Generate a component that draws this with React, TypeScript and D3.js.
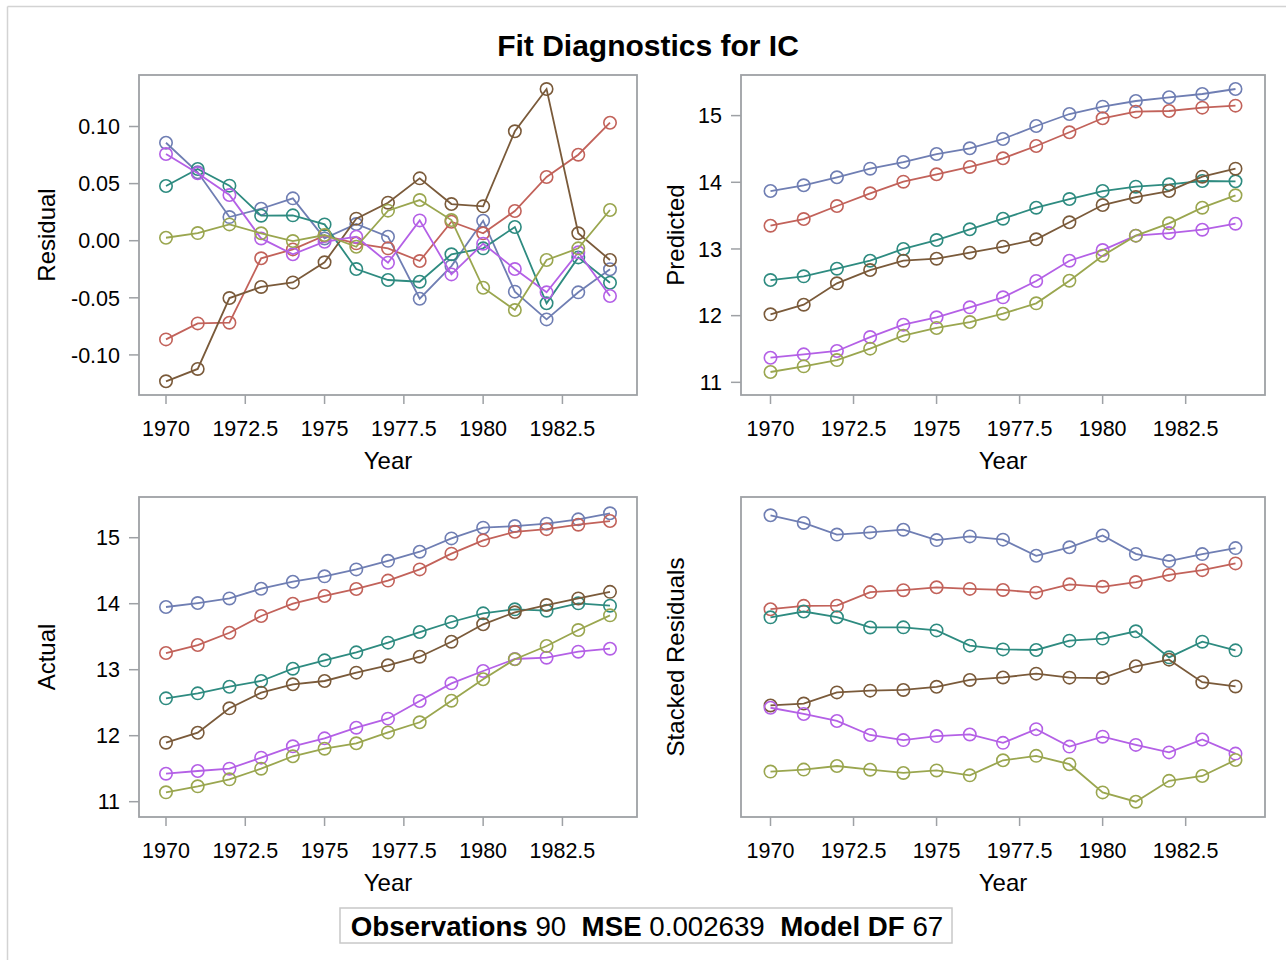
import * as d3 from 'd3';

const years = [1970, 1971, 1972, 1973, 1974, 1975, 1976, 1977, 1978, 1979, 1980, 1981, 1982, 1983, 1984];
const yearTicks = [1970, 1972.5, 1975, 1977.5, 1980, 1982.5];

const seriesNames = ['s1', 's2', 's3', 's4', 's5', 's6'];
const seriesColors = ['#6F7EB3', '#C2625A', '#2E8B80', '#7A5A3A', '#B460E6', '#9AA64F'];

const residualS1 = [0.0858, 0.0599, 0.0207, 0.0280, 0.0371, 0.0020, 0.0146, 0.0035, -0.0508, -0.0222, 0.0175, -0.0446, -0.0689, -0.0452, -0.0250];
const residualS2 = [-0.0864, -0.0724, -0.0718, -0.0154, -0.0076, 0.0044, -0.0023, -0.0067, -0.0178, 0.0166, 0.0065, 0.0260, 0.0558, 0.0753, 0.1033];
const residualS3 = [0.0479, 0.0628, 0.0482, 0.0219, 0.0222, 0.0143, -0.0248, -0.0344, -0.0359, -0.0119, -0.0067, 0.0120, -0.0548, -0.0146, -0.0368];
const residualS4 = [-0.1231, -0.1123, -0.0502, -0.0405, -0.0365, -0.0189, 0.0193, 0.0333, 0.0546, 0.0321, 0.0301, 0.0958, 0.1328, 0.0065, -0.0169];
const residualS5 = [0.0759, 0.0590, 0.0400, 0.0020, -0.0119, -0.0009, 0.0035, -0.0193, 0.0178, -0.0295, -0.0026, -0.0248, -0.0452, -0.0102, -0.0484];
const residualS6 = [0.0026, 0.0067, 0.0143, 0.0065, -0.0003, 0.0050, -0.0053, 0.0263, 0.0356, 0.0181, -0.0412, -0.0607, -0.0169, -0.0067, 0.0269];

const predictedS1 = [13.869, 13.955, 14.075, 14.204, 14.304, 14.424, 14.510, 14.649, 14.844, 15.024, 15.134, 15.219, 15.275, 15.324, 15.399];
const predictedS2 = [13.349, 13.449, 13.644, 13.835, 14.009, 14.120, 14.230, 14.360, 14.544, 14.750, 14.960, 15.059, 15.069, 15.119, 15.149];
const predictedS3 = [12.534, 12.590, 12.704, 12.824, 13.000, 13.134, 13.295, 13.454, 13.619, 13.749, 13.869, 13.934, 13.970, 14.019, 14.015];
const predictedS4 = [12.020, 12.164, 12.485, 12.684, 12.824, 12.854, 12.944, 13.034, 13.145, 13.400, 13.659, 13.779, 13.869, 14.084, 14.204];
const predictedS5 = [11.369, 11.420, 11.470, 11.679, 11.864, 11.975, 12.125, 12.275, 12.520, 12.824, 12.984, 13.200, 13.239, 13.289, 13.379];
const predictedS6 = [11.155, 11.240, 11.334, 11.505, 11.700, 11.815, 11.904, 12.029, 12.185, 12.524, 12.899, 13.200, 13.385, 13.619, 13.805];

const actualS1 = [13.950, 14.010, 14.080, 14.227, 14.333, 14.415, 14.520, 14.650, 14.788, 14.990, 15.152, 15.177, 15.212, 15.278, 15.370];
const actualS2 = [13.253, 13.374, 13.560, 13.814, 14.000, 14.117, 14.223, 14.350, 14.520, 14.758, 14.960, 15.090, 15.130, 15.197, 15.253];
const actualS3 = [12.566, 12.642, 12.742, 12.829, 13.015, 13.142, 13.263, 13.410, 13.571, 13.723, 13.854, 13.915, 13.894, 14.006, 13.970];
const actualS4 = [11.894, 12.045, 12.415, 12.652, 12.779, 12.829, 12.955, 13.067, 13.197, 13.424, 13.688, 13.870, 13.980, 14.080, 14.180];
const actualS5 = [11.424, 11.465, 11.500, 11.667, 11.839, 11.960, 12.121, 12.258, 12.526, 12.793, 12.980, 13.162, 13.182, 13.273, 13.318];
const actualS6 = [11.142, 11.233, 11.339, 11.500, 11.688, 11.803, 11.885, 12.050, 12.203, 12.530, 12.855, 13.158, 13.359, 13.601, 13.824];

const residualTicks = [-0.1, -0.05, 0, 0.05, 0.1];
const levelTicks = [11, 12, 13, 14, 15];

const obsCount = 90;
const mseValue = '0.002639';
const modelDF = 67;

const residuals = [residualS1, residualS2, residualS3, residualS4, residualS5, residualS6];
const predicted = [predictedS1, predictedS2, predictedS3, predictedS4, predictedS5, predictedS6];
const actual = [actualS1, actualS2, actualS3, actualS4, actualS5, actualS6];

// each residual series scaled into its own band, stacked top to bottom
const bandStep = 1.05;
const stacked = residuals.map((r, k) => {
  const [lo, hi] = d3.extent(r) as [number, number];
  return r.map(v => (residuals.length - 1 - k) * bandStep + (v - lo) / (hi - lo));
});

const FONT = '"Liberation Sans", Arial, Helvetica, sans-serif';
const FRAME = '#9EA1A5';

type PanelProps = {
  left: number; top: number; width: number; height: number; pad: number;
  yDomain: [number, number]; yTicks: number[]; fmt: (v: number) => string;
  label: string; labelX: number; data: number[][];
};

const Panel = ({ left, top, width, height, pad, yDomain, yTicks, fmt, label, labelX, data }: PanelProps) => {
  const x = d3.scaleLinear().domain([1970, 1984]).range([left + pad, left + width - pad]);
  const y = d3.scaleLinear().domain(yDomain).range([top + height, top]);
  const line = d3.line<number>().x((_, i) => x(years[i])).y(v => y(v));
  const bottom = top + height;
  return (
    <g>
      <rect x={left} y={top} width={width} height={height} fill="#fff" stroke={FRAME} strokeWidth={1.8} />
      {data.map((s, k) => (
        <g key={seriesNames[k]}>
          <path d={line(s) || ''} fill="none" stroke={seriesColors[k]} strokeWidth={1.8} />
          {s.map((v, i) => (
            <circle key={i} cx={x(years[i])} cy={y(v)} r={6.2} fill="none" stroke={seriesColors[k]} strokeWidth={1.6} />
          ))}
        </g>
      ))}
      {yearTicks.map(t => (
        <g key={t}>
          <line x1={x(t)} x2={x(t)} y1={bottom} y2={bottom + 9} stroke={FRAME} strokeWidth={1.5} />
          <text x={x(t)} y={bottom + 41} textAnchor="middle" fontSize={21.5} fontFamily={FONT} fill="#000">{String(t)}</text>
        </g>
      ))}
      {yTicks.map(t => (
        <g key={t}>
          <line x1={left - 10} x2={left} y1={y(t)} y2={y(t)} stroke={FRAME} strokeWidth={1.5} />
          <text x={left - 19} y={y(t)} dy="0.36em" textAnchor="end" fontSize={21.5} fontFamily={FONT} fill="#000">{fmt(t)}</text>
        </g>
      ))}
      <text x={left + width / 2} y={bottom + 74} textAnchor="middle" fontSize={24} fontFamily={FONT} fill="#000">Year</text>
      <text transform={`translate(${labelX},${top + height / 2}) rotate(-90)`} textAnchor="middle" fontSize={24} fontFamily={FONT} fill="#000">{label}</text>
    </g>
  );
};

const App = () => {
  const fmt2 = (v: number) => v.toFixed(2);
  const fmt0 = (v: number) => String(v);
  return (
    <div style={{ position: 'absolute', left: 0, top: 0 }}>
      <svg width={1286} height={960} style={{ display: 'block', background: '#fff' }}>
        <line x1={7.5} x2={1300} y1={6.5} y2={6.5} stroke="#D3D3D3" strokeWidth={1.5} />
        <line x1={7.5} x2={7.5} y1={6.5} y2={1000} stroke="#D3D3D3" strokeWidth={1.5} />
        <text x={648} y={56} textAnchor="middle" fontSize={30} fontWeight="bold" fontFamily={FONT}>Fit Diagnostics for IC</text>

        <Panel left={139} top={75} width={498} height={320} pad={27} yDomain={[-0.1351, 0.1451]} yTicks={residualTicks} fmt={fmt2} label="Residual" labelX={55} data={residuals} />
        <Panel left={741} top={75} width={524} height={320} pad={29.5} yDomain={[10.81, 15.609]} yTicks={levelTicks} fmt={fmt0} label="Predicted" labelX={684} data={predicted} />
        <Panel left={139} top={497} width={498} height={320} pad={27} yDomain={[10.768, 15.617]} yTicks={levelTicks} fmt={fmt0} label="Actual" labelX={55} data={actual} />
        <Panel left={741} top={497} width={524} height={320} pad={29.5} yDomain={[-0.334, 6.649]} yTicks={[]} fmt={fmt0} label="Stacked Residuals" labelX={684} data={stacked} />

        <rect x={340} y={908} width={612} height={35} fill="#fff" stroke="#C8C8C8" strokeWidth={1.5} />
        <text x={647} y={936} textAnchor="middle" fontSize={27.7} fontFamily={FONT} style={{ whiteSpace: 'pre' }}>
          <tspan fontWeight="bold">Observations</tspan>
          <tspan>{` ${obsCount}  `}</tspan>
          <tspan fontWeight="bold">MSE</tspan>
          <tspan>{` ${mseValue}  `}</tspan>
          <tspan fontWeight="bold">Model DF</tspan>
          <tspan>{` ${modelDF}`}</tspan>
        </text>
      </svg>
    </div>
  );
};

export default App;
